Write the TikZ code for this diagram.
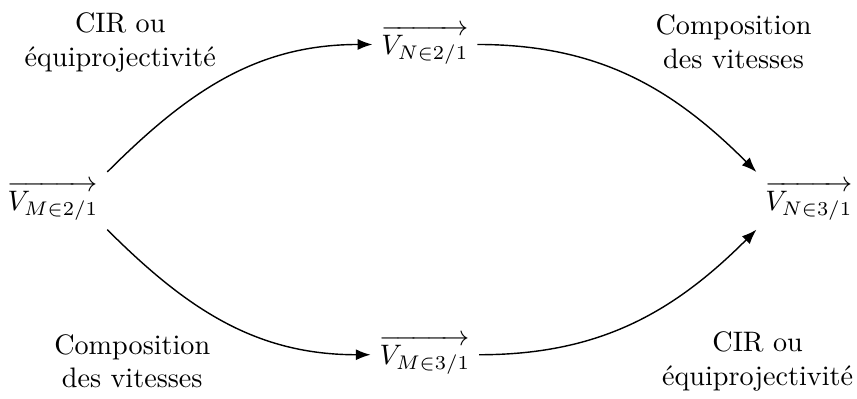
\documentclass[tikz,border=0pt]{standalone}
\usepackage{amsmath,amssymb}
\usetikzlibrary{arrows.meta}
\tikzset{
  >=Latex,
  vitesse/.style={inner sep=3pt},
  methode/.style={align=center, inner sep=1pt},
  passage/.style={->, line width=0.5pt}
}
\begin{document}
\begin{tikzpicture}[x=1cm,y=1cm]
\useasboundingbox (0,0) rectangle (10.69,4.975);
% vitesses
\node[vitesse] (vm21) at (0.66,2.47) {$\overrightarrow{V_{M\in 2/1}}$};
\node[vitesse] (vn21) at (5.30,4.42) {$\overrightarrow{V_{N\in 2/1}}$};
\node[vitesse] (vm31) at (5.30,0.55) {$\overrightarrow{V_{M\in 3/1}}$};
\node[vitesse] (vn31) at (10.09,2.47) {$\overrightarrow{V_{N\in 3/1}}$};

% passages
\draw[passage] (vm21.north east) to[out=45,in=180] (vn21.west);
\draw[passage] (vn21.east) to[out=0,in=135] (vn31.north west);
\draw[passage] (vm21.south east) to[out=-45,in=180] (vm31.west);
\draw[passage] (vm31.east) to[out=0,in=-135] (vn31.south west);

% methodes
\node[methode] (m1) at (1.50,4.45) {CIR ou\\équiprojectivité};
\node[methode] (m2) at (9.15,4.45) {Composition\\des vitesses};
\node[methode] (m3) at (1.65,0.47) {Composition\\des vitesses};
\node[methode] (m4) at (9.45,0.47) {CIR ou\\équiprojectivité};
\end{tikzpicture}
\end{document}
